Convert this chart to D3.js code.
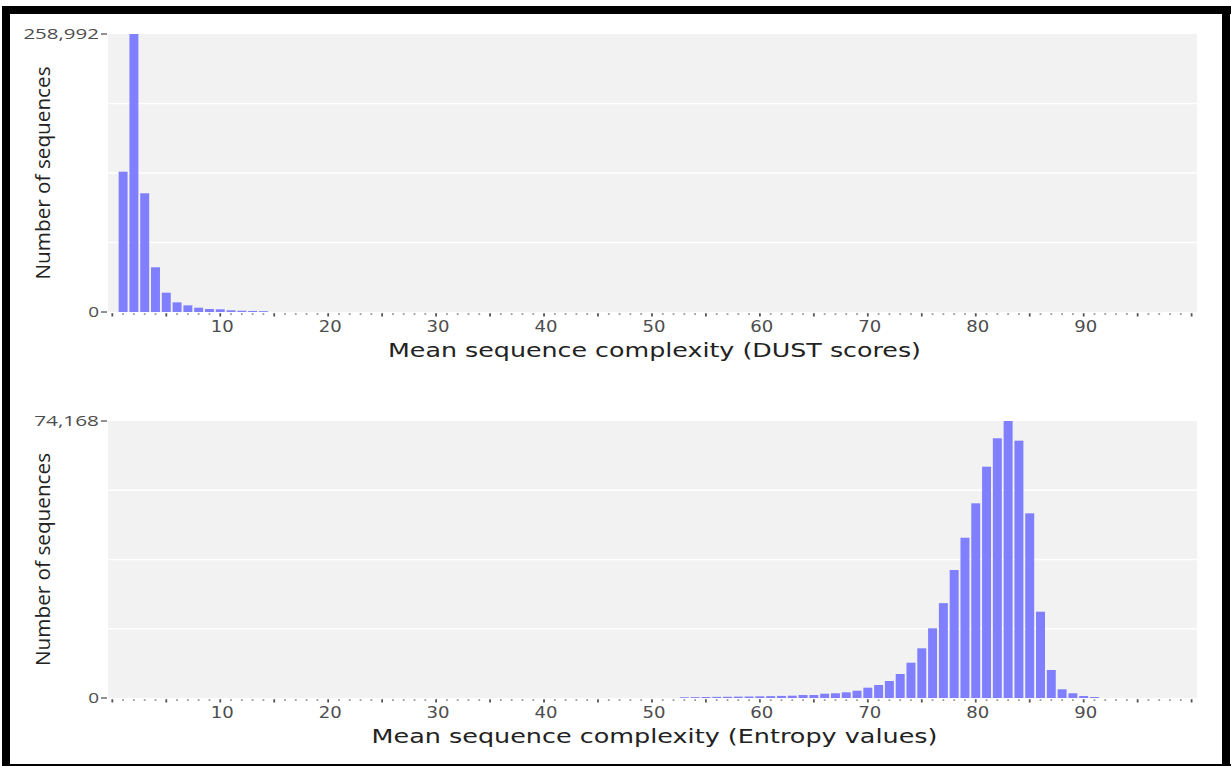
<!DOCTYPE html>
<html>
<head>
<meta charset="utf-8">
<script src="https://cdn.jsdelivr.net/npm/d3@7"></script>
<style>
  html, body { margin: 0; padding: 0; background: #ffffff; }
  svg { display: block; }
</style>
</head>
<body>
<svg id="chart" width="1231" height="766"></svg>
<script>
// Histogram of mean DUST scores per sequence
const dustBins   = [1, 2, 3, 4, 5, 6, 7, 8, 9, 10, 11, 12, 13, 14];
const dustCounts = [130700, 258992, 110600, 41650, 18000, 9000, 6200, 4000, 2800, 2500, 1600, 1200, 1000, 800];

// Histogram of mean entropy values per sequence
const entropyBins   = [53, 54, 55, 56, 57, 58, 59, 60, 61, 62, 63, 64, 65, 66, 67, 68, 69, 70,
                       71, 72, 73, 74, 75, 76, 77, 78, 79, 80, 81, 82, 83, 84, 85, 86, 87, 88, 89, 90, 91];
const entropyCounts = [200, 230, 260, 300, 330, 370, 400, 450, 500, 560, 620, 800, 800, 1150, 1260, 1520, 1960, 2760,
                       3480, 4550, 6430, 9450, 13300, 18660, 25400, 34270, 42920, 52130, 61930, 69540, 74168, 68900, 49450, 23110, 7500, 2330, 1260, 540, 270];

const xTickLabels = [10, 20, 30, 40, 50, 60, 70, 80, 90];
const yTitle = "Number of sequences";
const xTitles = ["Mean sequence complexity (DUST scores)", "Mean sequence complexity (Entropy values)"];

const svg = d3.select("#chart");

// frame
svg.append("rect").attr("x", 0).attr("y", 0).attr("width", 1231).attr("height", 766).attr("fill", "#ffffff");
const frame = svg.append("g").attr("fill", "#000");
frame.append("rect").attr("x", 2).attr("y", 6).attr("width", 1229).attr("height", 8);
frame.append("rect").attr("x", 2).attr("y", 6).attr("width", 8).attr("height", 760);
frame.append("rect").attr("x", 1222).attr("y", 6).attr("width", 8).attr("height", 760);
frame.append("rect").attr("x", 2).attr("y", 764).attr("width", 1229).attr("height", 2);

const left = 108, right = 1197;
const x = d3.scaleLinear().domain([-0.4, 100.5]).range([left, right]);
const unit = x(1) - x(0);
const barW = unit * 0.83;

const panels = [
  { bins: dustBins, counts: dustCounts, top: 34, bottom: 312, title: xTitles[0], titleLen: 533 },
  { bins: entropyBins, counts: entropyCounts, top: 421, bottom: 698, title: xTitles[1], titleLen: 566 }
];

panels.forEach(p => {
  const maxV = d3.max(p.counts);
  const y = d3.scaleLinear().domain([0, maxV]).range([p.bottom, p.top]);
  const g = svg.append("g");

  // plot background
  g.append("rect")
    .attr("x", left).attr("y", p.top)
    .attr("width", right - left).attr("height", p.bottom - p.top)
    .attr("fill", "#f2f2f2");

  // horizontal gridlines at quarters of the maximum
  g.selectAll("line.grid")
    .data([0.25, 0.5, 0.75].map(f => f * maxV))
    .join("line")
    .attr("class", "grid")
    .attr("x1", left).attr("x2", right)
    .attr("y1", d => y(d)).attr("y2", d => y(d))
    .attr("stroke", "#ffffff").attr("stroke-width", 1.5);

  // bars
  g.selectAll("rect.bar")
    .data(p.bins.map((b, i) => ({ b, c: p.counts[i] })))
    .join("rect")
    .attr("class", "bar")
    .attr("x", d => x(d.b) - barW / 2)
    .attr("width", barW)
    .attr("y", d => y(d.c))
    .attr("height", d => y(0) - y(d.c))
    .attr("fill", "#7f7fff");

  // x ticks: a dot per unit, larger mark every 5
  const ticks = d3.range(0, 101);
  g.selectAll("line.xt")
    .data(ticks)
    .join("line")
    .attr("class", "xt")
    .attr("x1", d => x(d)).attr("x2", d => x(d))
    .attr("y1", p.bottom + 1.2)
    .attr("y2", d => d % 5 === 0 ? p.bottom + 4.5 : p.bottom + 3)
    .attr("stroke", d => d % 5 === 0 ? "#555" : "#9a9a9a")
    .attr("stroke-width", d => d % 5 === 0 ? 1.8 : 1.8);

  g.selectAll("text.xl")
    .data(xTickLabels)
    .join("text")
    .attr("class", "xl")
    .attr("x", d => x(d) + 2)
    .attr("y", p.bottom + 19.5)
    .attr("text-anchor", "middle")
    .attr("font-family", "DejaVu Sans")
    .attr("font-size", 15)
    .attr("fill", "#4d4d4d")
    .attr("textLength", 23)
    .attr("lengthAdjust", "spacingAndGlyphs")
    .text(d => d);

  // y ticks: only 0 and the maximum
  const fmt = d3.format(",");
  const yt = [0, maxV];
  g.selectAll("line.yt")
    .data(yt)
    .join("line")
    .attr("class", "yt")
    .attr("x1", 101).attr("x2", 107)
    .attr("y1", d => y(d)).attr("y2", d => y(d))
    .attr("stroke", "#555").attr("stroke-width", 1.3);
  g.selectAll("text.yl")
    .data(yt)
    .join("text")
    .attr("class", "yl")
    .attr("x", 99)
    .attr("y", d => y(d) + 5)
    .attr("text-anchor", "end")
    .attr("font-family", "Open Sans")
    .attr("font-size", 14)
    .attr("fill", "#4d4d4d")
    .attr("textLength", d => fmt(d).length * 10.8)
    .attr("lengthAdjust", "spacingAndGlyphs")
    .text(d => fmt(d));

  // y title
  const cy = (p.top + p.bottom) / 2;
  g.append("text")
    .attr("transform", `translate(50,${cy}) rotate(-90)`)
    .attr("text-anchor", "middle")
    .attr("font-family", "Open Sans")
    .attr("font-size", 20)
    .attr("fill", "#222")
    .attr("textLength", 213)
    .attr("lengthAdjust", "spacingAndGlyphs")
    .text(yTitle);

  // x title
  g.append("text")
    .attr("x", (left + right) / 2 + 2)
    .attr("y", p.bottom + 45)
    .attr("text-anchor", "middle")
    .attr("font-family", "DejaVu Sans")
    .attr("font-size", 20)
    .attr("fill", "#222")
    .attr("textLength", p.titleLen)
    .attr("lengthAdjust", "spacingAndGlyphs")
    .text(p.title);
});
</script>
</body>
</html>
